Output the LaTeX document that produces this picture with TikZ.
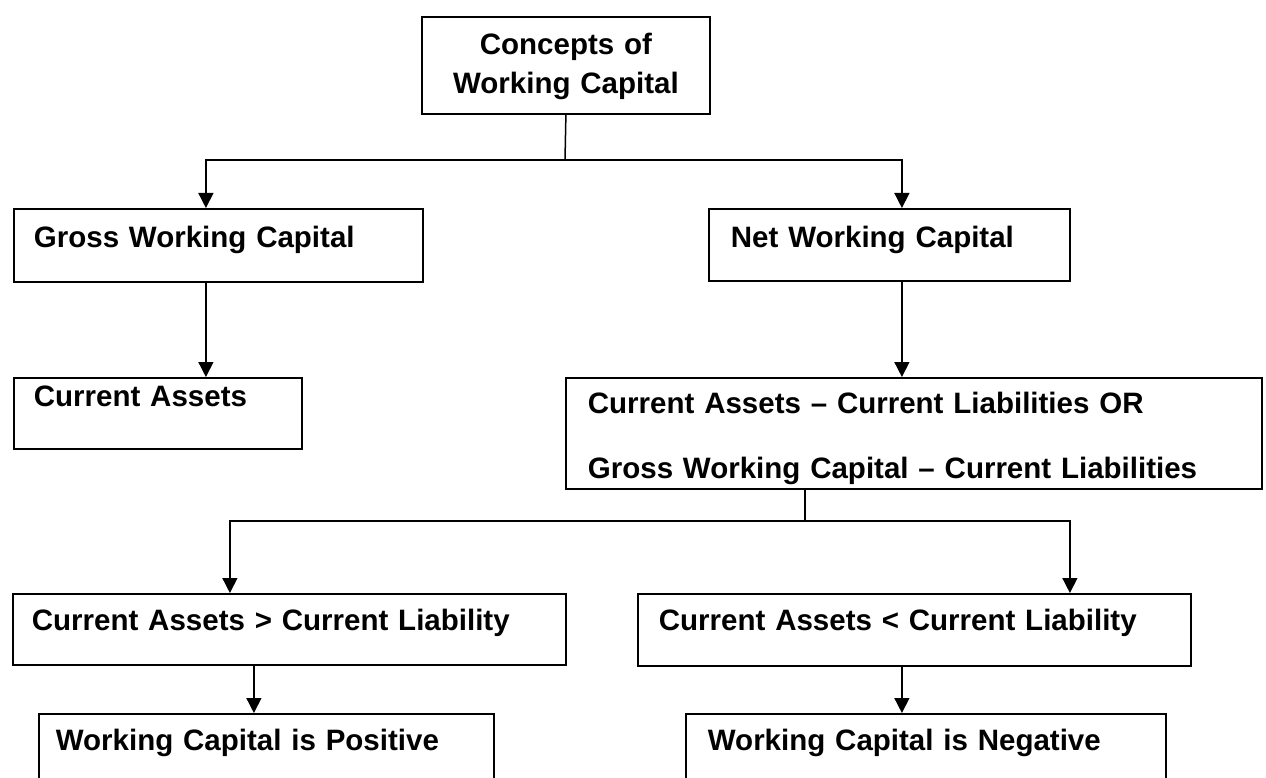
\documentclass[tikz,border=0pt]{standalone}
\usepackage{fontspec}
\setmainfont{Liberation Sans}
\usepackage{tikz}
\usetikzlibrary{arrows.meta, calc}

\begin{document}
\begin{tikzpicture}[x=1pt, y=-1pt,
    font=\bfseries\fontsize{29.5}{39}\selectfont,
    wcbox/.style={draw, line width=1.8pt, anchor=north west, align=left, inner ysep=0pt},
    link/.style={line width=1.5pt},
    arr/.style={link, -{Triangle[length=15pt, width=15pt]}}]
  \clip (0,0) rectangle (1266,778);
  % title box
  \node[wcbox, align=center, inner xsep=0pt, text width=288pt, text height=38pt, text depth=59pt]
    (concepts) at (421,16) {Concepts of\\Working Capital};
  % one-line boxes: name/x/y/width/height/inset/baseline/text
  \foreach \nm/\x/\y/\w/\h/\ins/\b/\txt in {
      gross/13/208/409/73/20/39/{Gross Working Capital},
      net/708/208/361/72/22/39/{Net Working Capital},
      curassets/13/377/288/71/20/29/{Current Assets},
      greater/12/593/553/71/19/37/{Current Assets > Current Liability},
      less/637/593/553/72/21/37/{Current Assets < Current Liability},
      positive/38/713/455/100/17/37/{Working Capital is Positive},
      negative/685/713/480/100/22/37/{Working Capital is Negative}}{
    \pgfmathsetmacro\tw{\w-2*\ins}
    \pgfmathsetmacro\td{\h-\b}
    \node[wcbox, inner xsep=\ins pt, text width=\tw pt, text height=\b pt, text depth=\td pt]
      (\nm) at (\x,\y) {\txt};
  }
  % formula box
  \node[wcbox, inner xsep=22pt, text width=652pt, text height=36pt, text depth=75pt]
    (netdef) at (565,377) {Current Assets -- Current Liabilities OR\\[26pt]Gross Working Capital -- Current Liabilities};

  \coordinate (b1) at (565,160);
  \coordinate (b2) at (805,521);
  \draw[link] (concepts.south) -- (b1);
  \draw[arr] (b1) -| ([xshift=-12.5pt]gross.north);
  \draw[arr] (b1) -| ([xshift=12.5pt]net.north);
  \draw[arr] ([xshift=-12.5pt]gross.south) -- ([xshift=-12.5pt]gross.south |- curassets.north);
  \draw[arr] ([xshift=12.5pt]net.south) -- ([xshift=12.5pt]net.south |- netdef.north);
  \draw[link] (netdef.south -| b2) -- (b2);
  \draw[arr] (b2) -| ([xshift=-59.5pt]greater.north);
  \draw[arr] (b2) -| ([xshift=155.5pt]less.north);
  \draw[arr] ([xshift=-35.5pt]greater.south) -- ([xshift=-35.5pt]greater.south |- positive.north);
  \draw[arr] ([xshift=-12.5pt]less.south) -- ([xshift=-12.5pt]less.south |- negative.north);
\end{tikzpicture}
\end{document}
